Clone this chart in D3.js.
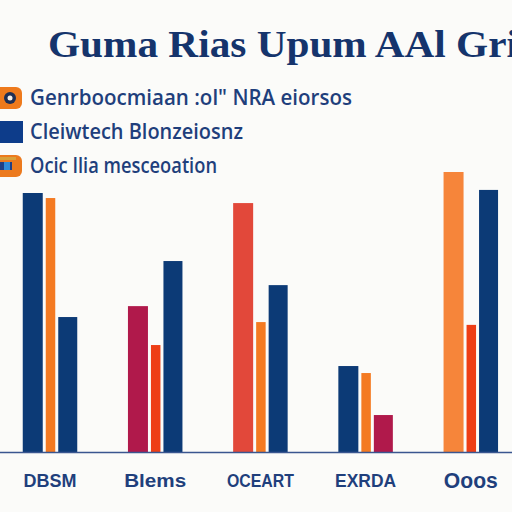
<!DOCTYPE html>
<html>
<head>
<meta charset="utf-8">
<script src="https://cdn.jsdelivr.net/npm/d3@7"></script>
<style>
  html, body { margin: 0; padding: 0; background: #fbfbf9; }
  svg { display: block; }
</style>
</head>
<body>
<div id="chart"></div>
<script>
var width = 512;
var height = 512;

// 数据
var titleText = 'Guma Rias Upum AAl Gri';
var legendLabels = ["Genrboocmiaan :ol\" NRA eiorsos", 'Cleiwtech Blonzeiosnz', 'Ocic Ilia mesceoation'];
var categories = ['DBSM', 'Blems', 'OCEART', 'EXRDA', 'Ooos'];
var series1 = [92.5, 52.1, 88.9, 30.7, 100];
var series2 = [90.7, 38.2, 46.4, 28.2, 45.4];
var series3 = [48.2, 68.2, 59.6, 13.2, 93.6];

// 颜色 (每组不同)
var navy = '#0c3a76';
var orange = '#f47a22';
var crimson = '#b0194b';
var red = '#e2483a';
var redOrange = '#ee3e16';
var lightOrange = '#f6853a';
var barColors = [
  [navy, orange, navy],
  [crimson, redOrange, navy],
  [red, orange, navy],
  [navy, orange, crimson],
  [lightOrange, redOrange, navy]
];
var slotWidths = [20, 9.5, 19];
var slotGap = 3;
var labelWidths = [53, 62, 67, 61, 54];
var legendWidths = [322, 213, 187];

var svg = d3.select('#chart')
  .append('svg')
  .attr('width', width)
  .attr('height', height)

svg.append('rect')
  .attr('width', width)
  .attr('height', height)
  .attr('fill', '#fbfbf9')

// 标题
svg.append('text')
  .attr('x', 48)
  .attr('y', 57)
  .attr('textLength', 470)
  .attr('lengthAdjust', 'spacingAndGlyphs')
  .style('font-family', '"Liberation Serif", "DejaVu Serif", serif')
  .style('font-weight', 'bold')
  .style('font-size', '38px')
  .style('fill', '#15346c')
  .text(titleText)

// 图例
var legend = svg.append('g')
var legendY = [98, 132, 166];

var rows = legend.selectAll('g')
  .data(legendLabels)
  .enter()
  .append('g')
  .attr('transform', (d, i) => 'translate(0,' + legendY[i] + ')')

rows.append('text')
  .attr('x', 30)
  .attr('dy', '0.35em')
  .attr('textLength', (d, i) => legendWidths[i])
  .attr('lengthAdjust', 'spacingAndGlyphs')
  .style('font-family', '"Open Sans", "Liberation Sans", Arial, sans-serif')
  .style('font-weight', '600')
  .style('font-size', '21px')
  .style('fill', '#1f3f7c')
  .text(d => d)

// 图例图标
var icon1 = legend.append('g').attr('transform', 'translate(0,' + legendY[0] + ')')
icon1.append('rect').attr('x', -6).attr('y', -11).attr('width', 28).attr('height', 22).attr('rx', 6).attr('fill', '#ee7a1c')
icon1.append('circle').attr('cx', 10).attr('cy', 0).attr('r', 6).attr('fill', '#1d2f55')
icon1.append('circle').attr('cx', 10).attr('cy', 0).attr('r', 2.5).attr('fill', '#f4efe8')

var icon2 = legend.append('g').attr('transform', 'translate(0,' + legendY[1] + ')')
icon2.append('rect').attr('x', -2).attr('y', -11).attr('width', 25).attr('height', 22).attr('fill', '#0d3c8a')

var icon3 = legend.append('g').attr('transform', 'translate(0,' + legendY[2] + ')')
icon3.append('rect').attr('x', -6).attr('y', -11).attr('width', 28).attr('height', 22).attr('rx', 6).attr('fill', '#ec7a1e')
icon3.append('rect').attr('x', -6).attr('y', -9).attr('width', 22).attr('height', 3).attr('fill', '#d9a03a')
icon3.append('rect').attr('x', -6).attr('y', -4).attr('width', 18).attr('height', 8).attr('fill', '#1f3f86')
icon3.append('rect').attr('x', 4).attr('y', -4).attr('width', 6).attr('height', 8).attr('fill', '#2f8ad8')

// 比例尺
var x0 = d3.scaleBand()
  .domain(categories)
  .range([-2.6, 523.4])

var y = d3.scaleLinear()
  .domain([0, 100])
  .range([452, 172])

var groupWidth = d3.sum(slotWidths) + slotGap * (slotWidths.length - 1);
var slotOffsets = slotWidths.map((w, i) => d3.sum(slotWidths.slice(0, i)) + slotGap * i - groupWidth / 2);

var barsData = categories.map((c, i) => {
  return {
    category: c,
    index: i,
    data: [series1[i], series2[i], series3[i]].map((v, j) => ({ value: v, slot: j, group: i }))
  }
})

var groups = svg.selectAll('g.group')
  .data(barsData)
  .enter()
  .append('g')
  .attr('class', 'group')
  .attr('transform', d => 'translate(' + (x0(d.category) + x0.bandwidth() / 2) + ',0)')

groups.selectAll('rect')
  .data(d => d.data)
  .enter()
  .append('rect')
  .attr('x', d => slotOffsets[d.slot])
  .attr('width', d => slotWidths[d.slot])
  .attr('y', d => y(d.value))
  .attr('height', d => y(0) - y(d.value))
  .attr('fill', d => barColors[d.group][d.slot])

// 坐标轴
var xAxis = svg.append('g')
  .attr('transform', 'translate(0,' + y(0) + ')')
  .call(d3.axisBottom(x0).tickSize(0).tickSizeOuter(0).tickPadding(20))

xAxis.select('.domain')
  .attr('stroke', '#3a5690')
  .attr('stroke-width', 1.5)

xAxis.selectAll('text')
  .attr('dy', '0.35em')
  .attr('y', 28)
  .attr('textLength', (d, i) => labelWidths[i])
  .attr('lengthAdjust', 'spacingAndGlyphs')
  .style('font-family', '"Liberation Sans", Arial, sans-serif')
  .style('font-weight', 'bold')
  .style('font-size', (d, i) => i === 4 ? '22px' : '19px')
  .style('fill', '#1f3f7c')
</script>
</body>
</html>
